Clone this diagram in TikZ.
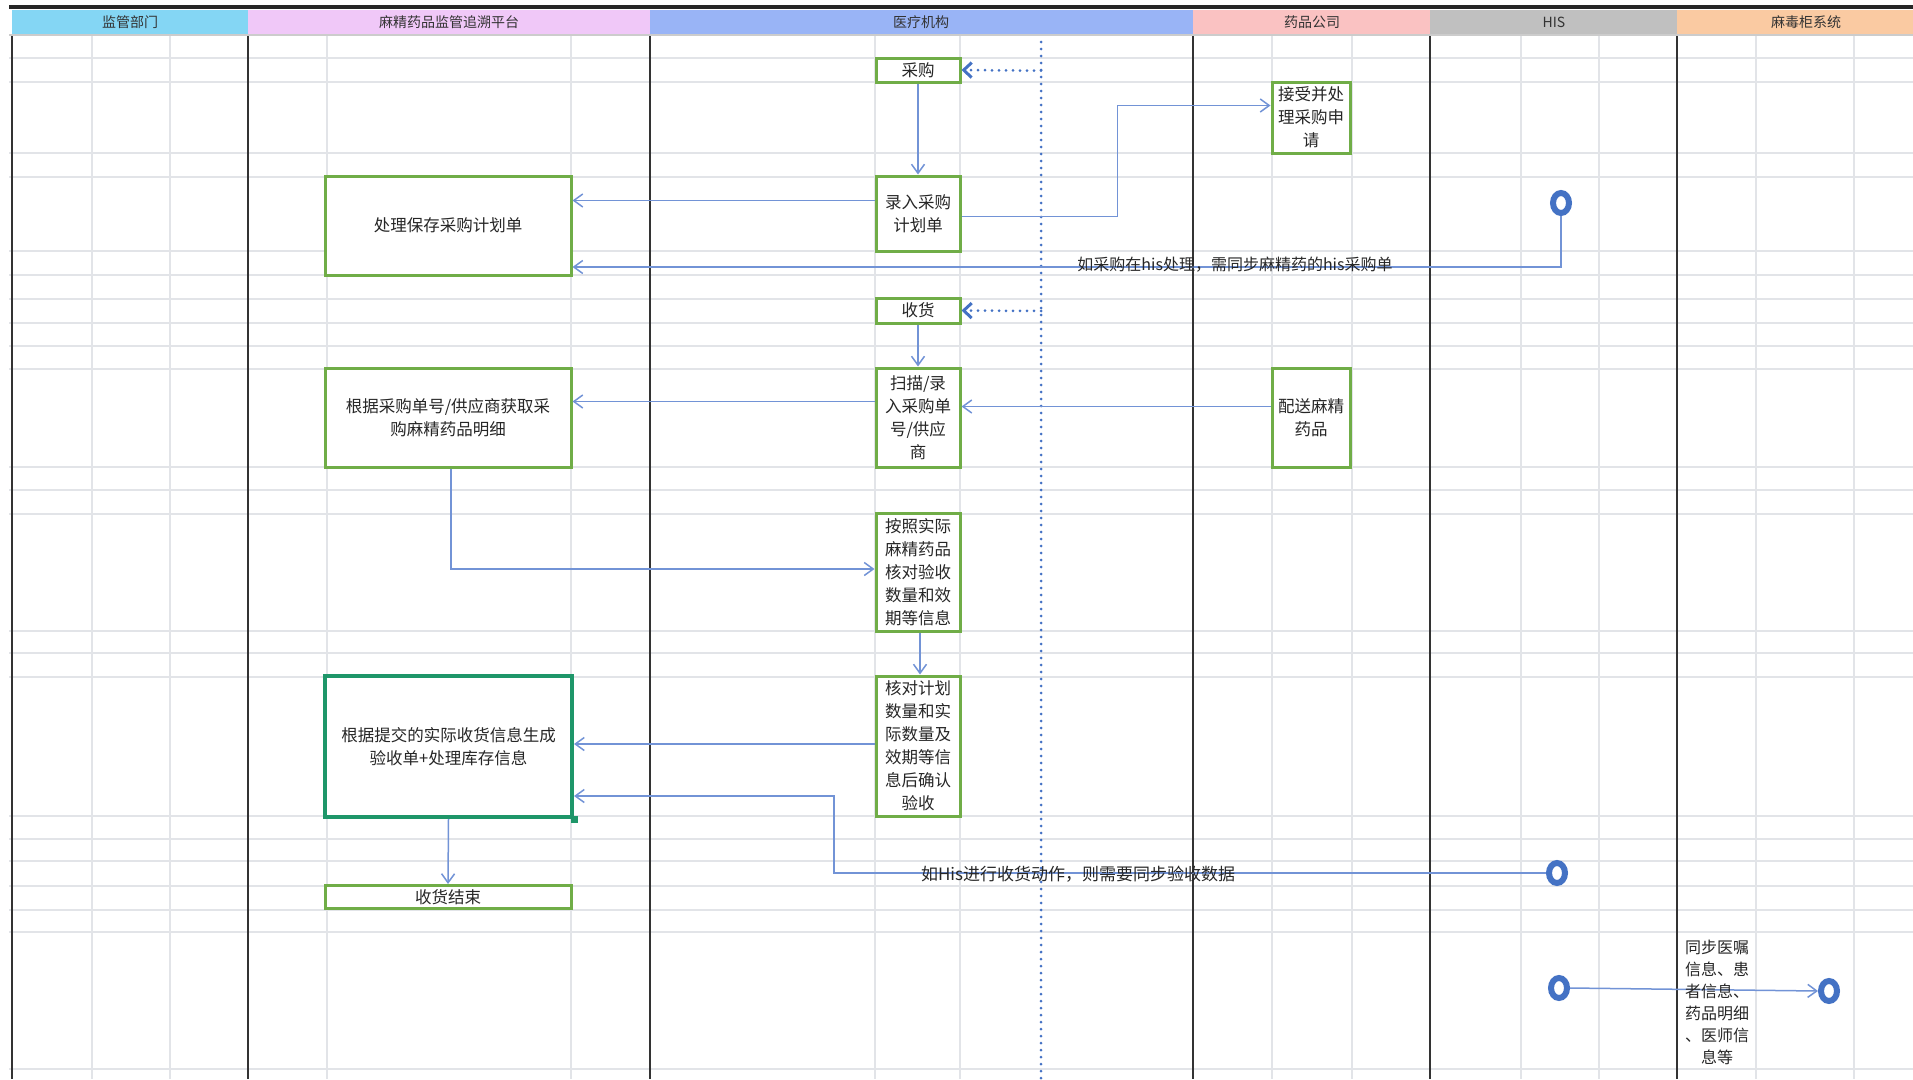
\documentclass[tikz,border=0pt]{standalone}
\usepackage{fontspec}
\newfontfamily\cjk{Noto Sans CJK SC}
\usetikzlibrary{arrows.meta, shapes.geometric, calc}

\definecolor{boxgreen}{RGB}{112,173,71}
\definecolor{selgreen}{RGB}{30,150,105}
\definecolor{linkblue}{RGB}{114,147,214}
\definecolor{dotblue}{RGB}{68,114,196}
\definecolor{gridgray}{RGB}{226,228,232}
\definecolor{hdsup}{RGB}{132,214,244}
\definecolor{hdplat}{RGB}{240,200,248}
\definecolor{hdhosp}{RGB}{153,180,246}
\definecolor{hdcomp}{RGB}{250,194,194}
\definecolor{hdhis}{RGB}{192,192,192}
\definecolor{hdcab}{RGB}{250,202,162}

\begin{document}
\begin{tikzpicture}[x=1pt, y=-1pt,
  box/.style={draw=boxgreen, line width=3pt, fill=white, align=center, inner sep=0pt,
              text=black!85, font=\cjk\fontsize{16.5}{23}\selectfont},
  head/.style={font=\cjk\fontsize{14}{16}\selectfont, text=black!80},
  note/.style={font=\cjk\fontsize{16}{22}\selectfont, align=center, text=black!85},
  arr/.style={-{Straight Barb[length=9pt, width=13pt]}, line width=1.5pt, linkblue},
  dotarr/.style={-{Straight Barb[length=8pt, width=15pt, line width=3pt]}, line width=3pt,
                 dotblue, line cap=round, dash pattern=on 0pt off 7pt},
  ring/.style={draw=dotblue, line width=6pt, fill=white, ellipse, inner sep=0pt,
               minimum width=16pt, minimum height=20pt},
]
\useasboundingbox (0,0) rectangle (1913,1079);

% header band
\fill[hdsup]  (12,9.6) rectangle (248,34);
\fill[hdplat] (248,9.6) rectangle (650,34);
\fill[hdhosp] (650,9.6) rectangle (1193,34);
\fill[hdcomp] (1193,9.6) rectangle (1430,34);
\fill[hdhis]  (1430,9.6) rectangle (1677,34);
\fill[hdcab]  (1677,9.6) rectangle (1913,34);
\draw[line width=3.5pt, black!85] (9,7) -- (1913,7);
\draw[line width=2pt, black!20] (9,35) -- (1913,35);
\node[head] (hsup)  at (130,22)  {监管部门};
\node[head] (hplat) at (449,22)  {麻精药品监管追溯平台};
\node[head] (hhosp) at (921,22)  {医疗机构};
\node[head] (hcomp) at (1312,22) {药品公司};
\node[head] (hhis)  at (1554,22) {HIS};
\node[head] (hcab)  at (1806,22) {麻毒柜系统};

% sheet grid
\foreach \y in {58,82,153,177,251,275,299,323,346,369,467,490,514,631,653,677,816,839,861,886,910,932,1069}
  \draw[gridgray, line width=1.2pt] (9,\y) -- (1913,\y);
\foreach \x in {92,170,327,571,875,960,1272,1352,1521,1599,1756,1854}
  \draw[gridgray, line width=1.2pt] (\x,36) -- (\x,1079);

% lanes
\foreach \x in {12,248,650,1193,1430,1677}
  \draw[line width=1.8pt, black!80] (\x,36) -- (\x,1079);
\draw[dotblue, line width=3pt, line cap=round, dash pattern=on 0pt off 7pt] (1041,42) -- (1041,1079);

% boxes
\node[box, minimum width=84pt, minimum height=24pt] (caigou) at (918,70) {采购};
\node[box, minimum width=84pt, minimum height=75pt] (luru) at (918,213.5) {录入采购\\计划单};
\node[box, minimum width=246pt, minimum height=99pt] (chuli) at (448,225.5) {处理保存采购计划单};
\node[box, minimum width=78pt, minimum height=71pt] (jieshou) at (1311,117.5) {接受并处\\理采购申\\请};
\node[box, minimum width=84pt, minimum height=25pt] (shouhuo) at (918,310.5) {收货};
\node[box, minimum width=84pt, minimum height=99pt] (saomiao) at (918,417.5) {扫描/录\\入采购单\\号/供应\\商};
\node[box, minimum width=246pt, minimum height=99pt] (genju) at (448,417.5) {根据采购单号/供应商获取采\\购麻精药品明细};
\node[box, minimum width=78pt, minimum height=99pt] (peisong) at (1311,417.5) {配送麻精\\药品};
\node[box, minimum width=84pt, minimum height=118pt] (anzhao) at (918,572) {按照实际\\麻精药品\\核对验收\\数量和效\\期等信息};
\node[box, minimum width=84pt, minimum height=140pt] (hedui) at (918,746) {核对计划\\数量和实\\际数量及\\效期等信\\息后确认\\验收};
\node[box, draw=selgreen, line width=4pt, minimum width=247pt, minimum height=141pt] (shengcheng) at (448.5,746.5) {根据提交的实际收货信息生成\\验收单+处理库存信息};
\fill[selgreen] ([shift={(-3.5pt,3.5pt)}]shengcheng.south east) rectangle ++(7,7);
\node[box, minimum width=246pt, minimum height=23pt] (jieshu) at (448,897) {收货结束};

% system end points
\node[ring] (his1) at (1561,203) {};
\node[ring] (his2) at (1557,873) {};
\node[ring] (his3) at (1559,988) {};
\node[ring] (cab)  at (1829,991) {};
\coordinate (d1) at (1041,70.7);
\coordinate (d2) at (1041,311);

% connectors
\draw[dotarr] (d1) -- (caigou.east);
\draw[arr] (caigou) -- (luru);
\draw[arr] ([yshift=13pt]luru.west) -- ([yshift=13pt]luru.west -| chuli.east);
\draw[arr] ([yshift=-3pt]luru.east) -- ++(156,0) |- ([yshift=12pt]jieshou.west);
\draw[arr] (his1.south) |- ([yshift=-41.5pt]chuli.east);
\draw[dotarr] (d2) -- (shouhuo.east);
\draw[arr] (shouhuo) -- (saomiao);
\draw[arr] ([yshift=16pt]saomiao.west) -- ([yshift=16pt]saomiao.west -| genju.east);
\draw[arr] ([yshift=11pt]peisong.west) -- ([yshift=11pt]peisong.west -| saomiao.east);
\draw[arr] ([xshift=3pt]genju.south) |- ([yshift=3pt]anzhao.west);
\draw[arr] ([xshift=2pt]anzhao.south) -- ([xshift=2pt]hedui.north);
\draw[arr] ([yshift=2pt]hedui.west) -- ([yshift=2pt]hedui.west -| shengcheng.east);
\draw[arr] (his2.west) -- ++(-712,0) |- ([yshift=-49.5pt]shengcheng.east);
\draw[arr] (shengcheng.south) -- (jieshu.north);
\draw[arr] (his3.east) -- (cab.west);

% notes
\node[note] (nhis1) at (1235,265) {如采购在his处理，需同步麻精药的his采购单};
\node[note, font=\cjk\fontsize{17}{22}\selectfont] (nhis2) at (1078,874) {如His进行收货动作，则需要同步验收数据};
\node[note] (ncab)  at (1717,1002) {同步医嘱\\信息、患\\者信息、\\药品明细\\、医师信\\息等};
\end{tikzpicture}
\end{document}
